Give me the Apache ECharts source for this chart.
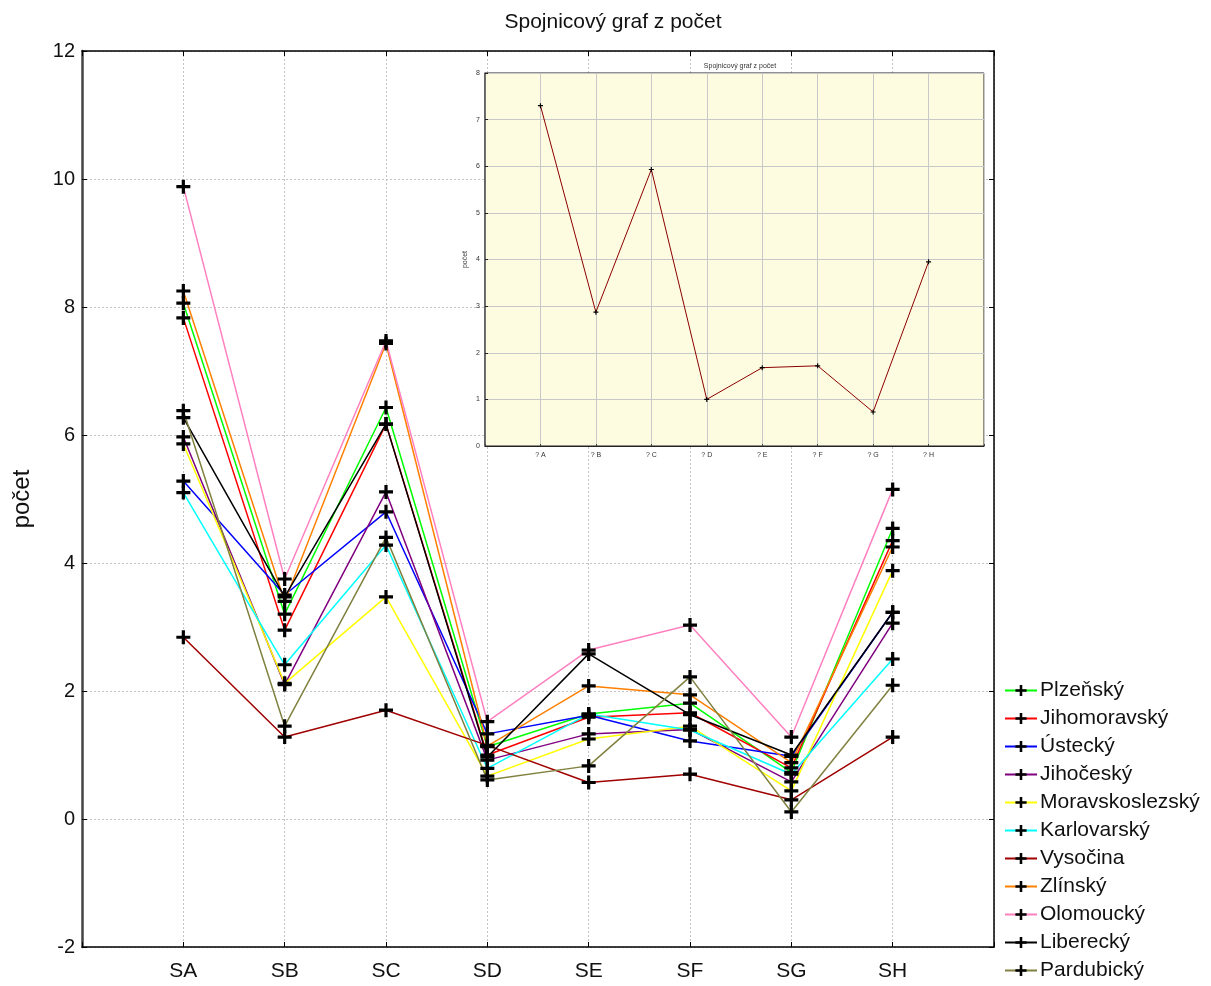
<!DOCTYPE html>
<html>
<head>
<meta charset="utf-8">
<title>Spojnicový graf z počet</title>
<script src="https://cdn.jsdelivr.net/npm/echarts@6/dist/echarts.min.js"></script>
<style>
  html, body { margin: 0; padding: 0; background: #fff; }
  #chart { width: 1211px; height: 986px; }
</style>
</head>
<body>
<div id="chart"></div>
<script>
// Categories of the main chart (x axis)
const categories = ['SA', 'SB', 'SC', 'SD', 'SE', 'SF', 'SG', 'SH'];

// Regions (series) and their values per category
const regionNames = ['Plzeňský', 'Jihomoravský', 'Ústecký', 'Jihočeský', 'Moravskoslezský',
  'Karlovarský', 'Vysočina', 'Zlínský', 'Olomoucký', 'Liberecký', 'Pardubický'];
const plzensky        = [8.06, 3.20, 6.43, 1.13, 1.64, 1.81, 0.73, 4.54];
const jihomoravsky    = [7.83, 2.95, 6.17, 1.00, 1.59, 1.66, 0.80, 4.35];
const ustecky         = [5.28, 3.50, 4.80, 1.33, 1.62, 1.22, 0.98, 3.23];
const jihocesky       = [5.97, 2.10, 5.11, 0.92, 1.33, 1.40, 0.58, 3.06];
const moravskoslezsky = [5.86, 2.12, 3.47, 0.67, 1.25, 1.45, 0.44, 3.88];
const karlovarsky     = [5.10, 2.41, 4.28, 0.79, 1.64, 1.39, 0.70, 2.50];
const vysocina        = [2.84, 1.28, 1.70, 1.15, 0.57, 0.70, 0.30, 1.28];
const zlinsky         = [8.25, 3.40, 7.43, 1.14, 2.08, 1.94, 0.88, 4.25];
const olomoucky       = [9.88, 3.75, 7.47, 1.52, 2.64, 3.03, 1.28, 5.15];
const liberecky       = [6.27, 3.47, 6.17, 0.97, 2.58, 1.63, 1.00, 3.23];
const pardubicky      = [6.38, 1.45, 4.40, 0.61, 0.83, 2.22, 0.11, 2.09];
const regionValues = [plzensky, jihomoravsky, ustecky, jihocesky, moravskoslezsky,
  karlovarsky, vysocina, zlinsky, olomoucky, liberecky, pardubicky];
const regionColors = ['#00ff00', '#ff0000', '#0000ff', '#800080', '#ffff00',
  '#00ffff', '#a00000', '#ff8000', '#ff80c0', '#000000', '#808040'];

// Main y axis ticks
const yTicks = [-2, 0, 2, 4, 6, 8, 10, 12];

// Inset chart
const insetCategories = ['? A', '? B', '? C', '? D', '? E', '? F', '? G', '? H'];
const insetValues = [7.30, 2.87, 5.93, 1.00, 1.68, 1.72, 0.73, 3.95];

const FONT = '"Liberation Sans", Arial, sans-serif';
const PLUS = 'path://M5.4,0H8.6V5.4H14V8.6H8.6V14H5.4V8.6H0V5.4H5.4Z';

const chart = echarts.init(document.getElementById('chart'), null, { renderer: 'canvas' });

const gridDotted = { show: true, lineStyle: { color: '#c4c4c4', type: [2, 2], width: 1 } };

function catLabel(list) {
  return v => (v >= 1 && v <= list.length && Number.isInteger(v)) ? list[v - 1] : '';
}

const series = regionNames.map((name, k) => ({
  name: name,
  type: 'line',
  xAxisIndex: 0,
  yAxisIndex: 0,
  data: regionValues[k].map((v, i) => [i + 1, v]),
  symbol: PLUS,
  symbolSize: 14,
  showSymbol: true,
  lineStyle: { color: regionColors[k], width: 1.5 },
  itemStyle: { color: '#000' },
  emphasis: { disabled: true },
  z: 3
}));

series.push({
  name: 'inset',
  type: 'line',
  xAxisIndex: 2,
  yAxisIndex: 2,
  data: insetValues.map((v, i) => [i + 1, v]),
  symbol: PLUS,
  symbolSize: 5,
  lineStyle: { color: '#8b0000', width: 1 },
  itemStyle: { color: '#000' },
  emphasis: { disabled: true },
  z: 10
});

const option = {
  animation: false,
  backgroundColor: '#ffffff',
  textStyle: { fontFamily: FONT },
  title: [
    {
      text: 'Spojnicový graf z počet',
      left: 608, top: 7, textAlign: 'center',
      textStyle: { fontFamily: FONT, fontSize: 21, fontWeight: 'normal', color: '#111' }
    },
    {
      text: 'Spojnicový graf z počet',
      left: 735, top: 58, textAlign: 'center',
      textStyle: { fontFamily: FONT, fontSize: 7, fontWeight: 'normal', color: '#333' }
    }
  ],
  legend: {
    data: regionNames,
    orient: 'vertical',
    left: 1004,
    top: 680,
    padding: 0,
    itemWidth: 32,
    itemHeight: 14,
    itemGap: 7,
    textStyle: { fontFamily: FONT, fontSize: 21, color: '#111', padding: [0, 0, 0, -2] },
    selectedMode: false
  },
  grid: [
    { left: 82, top: 51, width: 912, height: 896, show: false, outerBoundsMode: 'none', containLabel: false },
    { left: 485, top: 73, width: 499, height: 373, show: true, outerBoundsMode: 'none', containLabel: false,
      backgroundColor: '#fefce0', borderColor: '#222', borderWidth: 1, z: 8 }
  ],
  xAxis: [
    {
      type: 'value', gridIndex: 0, min: 0, max: 9, interval: 1,
      axisLine: { show: true, onZero: false, lineStyle: { color: '#000', width: 1.5 } },
      axisTick: { show: true, inside: true, length: 5, lineStyle: { color: '#000' } },
      axisLabel: { formatter: catLabel(categories), fontSize: 21, color: '#111', margin: 14, fontFamily: FONT },
      splitLine: gridDotted
    },
    {
      type: 'value', gridIndex: 0, min: 0, max: 9, interval: 1, position: 'top',
      axisLine: { show: true, onZero: false, lineStyle: { color: '#000', width: 1.5 } },
      axisTick: { show: true, inside: true, length: 5, lineStyle: { color: '#000' } },
      axisLabel: { show: false },
      splitLine: { show: false }
    },
    {
      type: 'value', gridIndex: 1, min: 0, max: 9, interval: 1,
      axisLine: { show: true, onZero: false, lineStyle: { color: '#222', width: 1 } },
      axisTick: { show: true, inside: true, length: 2, lineStyle: { color: '#444' } },
      axisLabel: { formatter: catLabel(insetCategories), fontSize: 7, color: '#333', margin: 6, fontFamily: FONT },
      splitLine: { show: true, lineStyle: { color: '#c8c8c8', width: 1 } },
      z: 9
    }
  ],
  yAxis: [
    {
      type: 'value', gridIndex: 0, min: yTicks[0], max: yTicks[yTicks.length - 1], interval: 2,
      name: 'počet', nameLocation: 'middle', nameGap: 48, nameRotate: 90,
      nameTextStyle: { fontFamily: FONT, fontSize: 24, color: '#111' },
      axisLine: { show: true, onZero: false, lineStyle: { color: '#444', width: 2.5 } },
      axisTick: { show: true, inside: true, length: 5, lineStyle: { color: '#000' } },
      axisLabel: { fontSize: 20, color: '#111', margin: 7, fontFamily: FONT },
      splitLine: gridDotted
    },
    {
      type: 'value', gridIndex: 0, min: yTicks[0], max: yTicks[yTicks.length - 1], interval: 2, position: 'right',
      axisLine: { show: true, onZero: false, lineStyle: { color: '#000', width: 1.5 } },
      axisTick: { show: true, inside: true, length: 5, lineStyle: { color: '#000' } },
      axisLabel: { show: false },
      splitLine: { show: false }
    },
    {
      type: 'value', gridIndex: 1, min: 0, max: 8, interval: 1,
      name: 'počet', nameLocation: 'middle', nameGap: 16, nameRotate: 90,
      nameTextStyle: { fontFamily: FONT, fontSize: 7, color: '#333' },
      axisLine: { show: true, onZero: false, lineStyle: { color: '#555', width: 1.5 } },
      axisTick: { show: true, inside: true, length: 3, lineStyle: { color: '#222' } },
      axisLabel: { fontSize: 7, color: '#333', margin: 5, fontFamily: FONT },
      splitLine: { show: true, lineStyle: { color: '#c8c8c8', width: 1 } },
      z: 9
    }
  ],
  series: series
};

chart.setOption(option);
</script>
</body>
</html>
